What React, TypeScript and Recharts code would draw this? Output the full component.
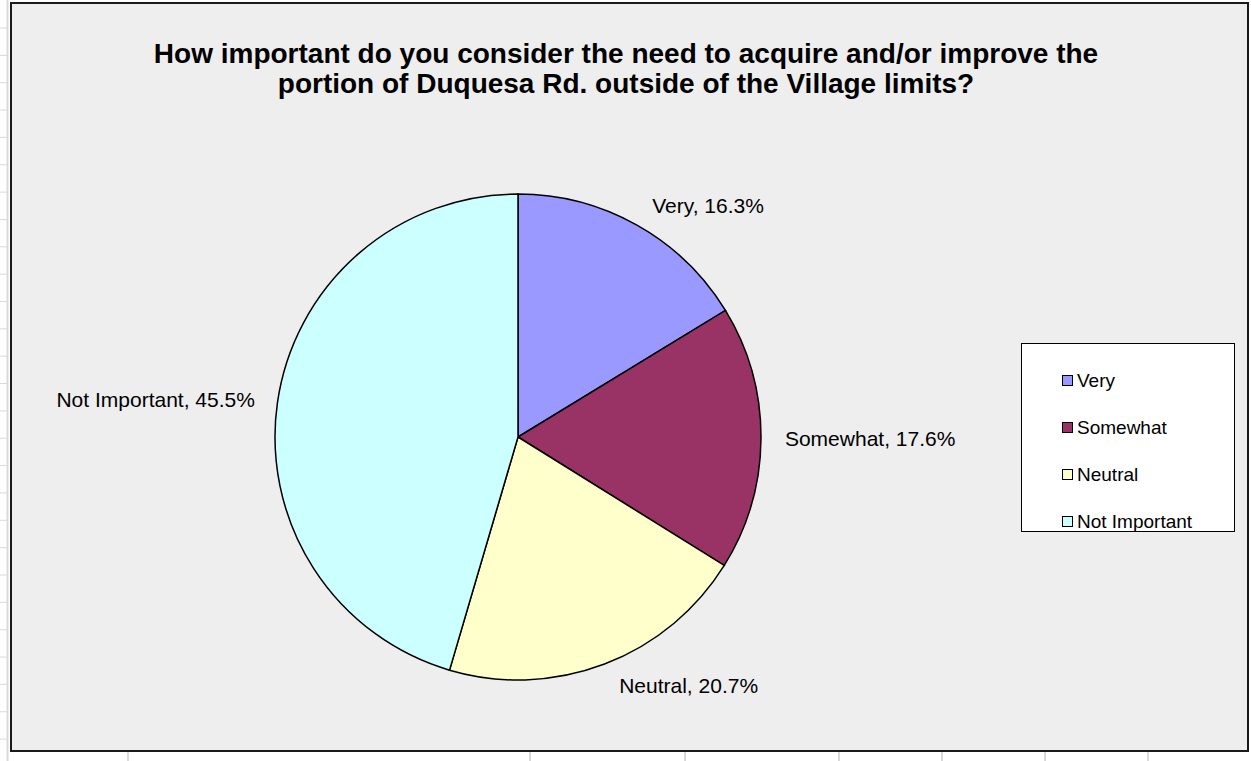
import React from 'react';
import { PieChart, Pie, Cell } from 'recharts';

const categories = ['Very', 'Somewhat', 'Neutral', 'Not Important'];
const shares = [16.3, 17.6, 20.7, 45.5];
const colors = ['#9999FF', '#993366', '#FFFFCC', '#CCFFFF'];

const titleLines = [
  'How important do you consider the need to acquire and/or improve the',
  'portion of Duquesa Rd. outside of the Village limits?',
];

const data = categories.map((name, i) => ({ name, value: shares[i] }));

const FONT = 'Arial, "Liberation Sans", sans-serif';
const RAD = Math.PI / 180;

function renderLabel(props: any) {
  const { cx, cy, midAngle, outerRadius, name, value } = props;
  const cos = Math.cos(-midAngle * RAD);
  const sin = Math.sin(-midAngle * RAD);
  const right = cos >= 0;
  const gap = 24 - 10 * Math.abs(sin);
  const x = cx + outerRadius * cos + (right ? gap : -gap);
  const y = cy + (outerRadius + 23) * sin;
  return (
    <text
      x={x}
      y={y}
      textAnchor={right ? 'start' : 'end'}
      dominantBaseline="central"
      fill="#000"
      fontSize={21}
      fontFamily={FONT}
    >
      {`${name}, ${value.toFixed(1)}%`}
    </text>
  );
}

function LegendBox() {
  return (
    <div
      style={{
        position: 'absolute',
        left: 1021,
        top: 343,
        width: 214,
        height: 189,
        background: '#fff',
        border: '1px solid #000',
        boxSizing: 'border-box',
        paddingTop: 13,
        fontFamily: FONT,
        fontSize: 19,
      }}
    >
      {categories.map((c, i) => (
        <div key={c} style={{ height: 47, display: 'flex', alignItems: 'center', paddingLeft: 40 }}>
          <span
            style={{
              display: 'inline-block',
              width: 9,
              height: 9,
              background: colors[i],
              border: '1px solid #000',
              marginRight: 4,
            }}
          />
          <span>{c}</span>
        </div>
      ))}
    </div>
  );
}

export default function App() {
  const rowTicks = Array.from({ length: 28 }, (_, i) => 28 + i * 27.35);
  const colTicks = [128, 530, 685, 839, 942, 1045, 1148];
  return (
    <div style={{ position: 'absolute', left: 0, top: 0, width: 1251, height: 761, background: '#fff', overflow: 'hidden' }}>
      <svg width={1251} height={761} style={{ position: 'absolute', left: 0, top: 0 }}>
        <line x1={7.5} y1={0} x2={7.5} y2={761} stroke="#D9D9D9" strokeWidth={2} />
        {rowTicks.map((y) => (
          <line key={y} x1={0} y1={y} x2={8} y2={y} stroke="#D9D9D9" strokeWidth={1} />
        ))}
        {colTicks.map((x) => (
          <line key={x} x1={x} y1={752} x2={x} y2={761} stroke="#D9D9D9" strokeWidth={2} />
        ))}
        <rect x={11} y={3} width={1237} height={748} fill="#EEEEEE" stroke="#1a1a1a" strokeWidth={2} />
        {titleLines.map((t, i) => (
          <text
            key={i}
            x={626}
            y={63 + i * 30}
            textAnchor="middle"
            fontFamily={FONT}
            fontSize={28}
            fontWeight="bold"
            fill="#000"
          >
            {t}
          </text>
        ))}
      </svg>
      <div style={{ position: 'absolute', left: 0, top: 0 }}>
        <PieChart width={1251} height={761} margin={{ top: 0, right: 0, bottom: 0, left: 0 }}>
          <Pie
            data={data}
            dataKey="value"
            nameKey="name"
            cx={518}
            cy={437}
            outerRadius={243}
            startAngle={90}
            endAngle={-270}
            stroke="#000"
            strokeWidth={1.5}
            label={renderLabel}
            labelLine={false}
            isAnimationActive={false}
          >
            {data.map((d, i) => (
              <Cell key={d.name} fill={colors[i]} />
            ))}
          </Pie>
        </PieChart>
      </div>
      <LegendBox />
    </div>
  );
}
